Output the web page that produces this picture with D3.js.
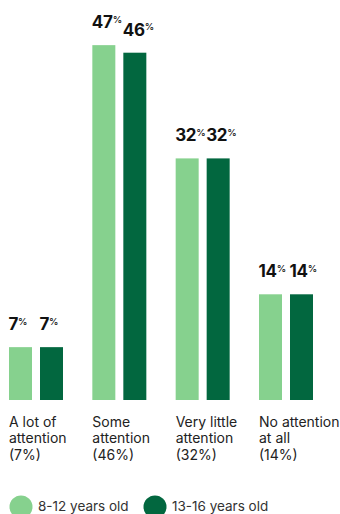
<!DOCTYPE html>
<html>
<head>
<meta charset="utf-8">
<script src="https://cdn.jsdelivr.net/npm/d3@7"></script>
<style>
  html, body { margin: 0; padding: 0; background: #fff; }
  svg { display: block; }
</style>
</head>
<body>
<svg id="chart" width="340" height="514"></svg>
<script>
const categories = ["A lot of attention", "Some attention", "Very little attention", "No attention at all"];
const categoryLines = [
  ["A lot of", "attention", "(7%)"],
  ["Some", "attention", "(46%)"],
  ["Very little", "attention", "(32%)"],
  ["No attention", "at all", "(14%)"]
];
const seriesNames = ["8-12 years old", "13-16 years old"];
const age8to12 = [7, 47, 32, 14];
const age13to16 = [7, 46, 32, 14];
const colors = ["#86D18E", "#02673F"];

const svg = d3.select("#chart");
const font = "Inter, 'Open Sans', sans-serif";

const x0 = d3.scaleBand().domain(categories).range([9, 313]).paddingInner(0.352).paddingOuter(0).align(0);
const x1 = d3.scaleBand().domain(seriesNames).range([0, x0.bandwidth()]).paddingInner(0.258).paddingOuter(0);
const y = d3.scaleLinear().domain([0, 50]).range([400, 22.5]);

const rows = categories.map((c, i) => ({
  cat: c,
  vals: [
    { s: seriesNames[0], v: age8to12[i], c: colors[0] },
    { s: seriesNames[1], v: age13to16[i], c: colors[1] }
  ]
}));

const g = svg.append("g");
const groups = g.selectAll("g.grp").data(rows).join("g")
  .attr("class", "grp")
  .attr("transform", d => `translate(${x0(d.cat)},0)`);

groups.selectAll("rect").data(d => d.vals).join("rect")
  .attr("x", d => x1(d.s))
  .attr("y", d => y(d.v))
  .attr("width", x1.bandwidth())
  .attr("height", d => y(0) - y(d.v))
  .attr("fill", d => d.c);

const lbl = groups.selectAll("text.val").data(d => d.vals).join("text")
  .attr("class", "val")
  .attr("x", d => x1(d.s) - 0.5)
  .attr("y", d => y(d.v) - 17)
  .attr("font-family", font)
  .attr("fill", "#111");
lbl.append("tspan")
  .attr("font-size", 17)
  .attr("font-weight", 700)
  .attr("letter-spacing", -0.3)
  .text(d => d.v);
lbl.append("tspan")
  .attr("font-size", 9.5)
  .attr("font-weight", 500)
  .attr("dy", -5.5)
  .text("%");

// category labels
groups.append("text")
  .attr("font-family", font)
  .attr("font-size", 14)
  .attr("fill", "#222")
  .selectAll("tspan").data((d, i) => categoryLines[i]).join("tspan")
  .attr("x", 0)
  .attr("y", (d, j) => 426.5 + j * 16.5)
  .text(d => d);

// legend
const legendX = [21, 155];
const leg = svg.append("g").selectAll("g").data(seriesNames).join("g")
  .attr("transform", (d, i) => `translate(${legendX[i]},507)`);
leg.append("circle").attr("r", 11.5).attr("fill", (d, i) => colors[i]);
leg.append("text")
  .attr("x", 17)
  .attr("y", 3.5)
  .attr("font-family", font)
  .attr("font-size", 13.5)
  .attr("fill", "#333")
  .text(d => d);
</script>
</body>
</html>
